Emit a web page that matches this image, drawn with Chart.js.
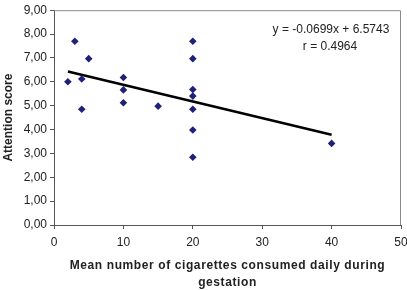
<!DOCTYPE html>
<html>
<head>
<meta charset="utf-8">
<script src="https://cdn.jsdelivr.net/npm/chart.js@4"></script>
<style>
  html, body { margin: 0; padding: 0; background: #fff; }
  #wrap { width: 407px; height: 290px; }
</style>
</head>
<body>
<div id="wrap"><canvas id="chart" width="407" height="290"></canvas></div>
<script>
// cigarettes per day vs attention score
const cigarettes = [2, 3, 4, 4, 5, 10, 10, 10, 15, 20, 20, 20, 20, 20, 20, 20, 40];
const attention = [6.0, 7.7, 6.12, 4.85, 6.97, 6.18, 5.66, 5.12, 4.98, 7.7, 6.97, 5.68, 5.4, 4.85, 3.98, 2.84, 3.42];

// linear trend line endpoints
const trendX = [2, 40];
const trendY = [6.43, 3.78];

const equationLines = ['y = -0.0699x + 6.5743', 'r = 0.4964'];
const xTitleLines = ['Mean number of cigarettes consumed daily during', 'gestation'];
const yTitle = 'Attention score';

const points = cigarettes.map((x, i) => ({ x: x, y: attention[i] }));
const trend = trendX.map((x, i) => ({ x: x, y: trendY[i] }));

const FONT = 'Liberation Sans, Arial, sans-serif';

const frameAndText = {
    id: 'frameAndText',
    afterDraw(chart) {
        const ctx = chart.ctx;
        const a = chart.chartArea;
        ctx.save();
        ctx.strokeStyle = '#8a8a8a';
        ctx.lineWidth = 1;
        ctx.beginPath();
        ctx.moveTo(a.left, a.top + 0.5);
        ctx.lineTo(a.right - 0.5, a.top + 0.5);
        ctx.lineTo(a.right - 0.5, a.bottom);
        ctx.stroke();

        ctx.fillStyle = '#222';
        ctx.font = '12px ' + FONT;
        ctx.textAlign = 'center';
        ctx.textBaseline = 'middle';
        ctx.fillText(equationLines[0], 331, 30);
        ctx.fillText(equationLines[1], 330, 47);

        // x axis title, spaced out like the original
        ctx.font = 'bold 12px ' + FONT;
        ctx.letterSpacing = '0.6px';
        const cx = (a.left + a.right) / 2;
        ctx.fillText(xTitleLines[0], cx, 266);
        ctx.fillText(xTitleLines[1], cx, 283);
        ctx.restore();
    }
};

new Chart(document.getElementById('chart'), {
    type: 'scatter',
    data: {
        datasets: [
            {
                label: 'Trend',
                type: 'line',
                data: trend,
                borderColor: '#000',
                borderWidth: 2.5,
                pointRadius: 0,
                fill: false,
                order: 2
            },
            {
                label: 'Data',
                data: points,
                pointStyle: 'rectRot',
                pointRadius: 3.8,
                backgroundColor: '#1f2078',
                borderColor: '#1f2078',
                borderWidth: 0,
                order: 1
            }
        ]
    },
    options: {
        responsive: false,
        animation: false,
        layout: { padding: { top: 3, right: 0, left: 1, bottom: 0 } },
        plugins: {
            legend: { display: false },
            tooltip: { enabled: false }
        },
        scales: {
            x: {
                type: 'linear',
                min: 0,
                max: 50,
                ticks: {
                    stepSize: 10,
                    color: '#222',
                    font: { family: FONT, size: 12 },
                    padding: 6
                },
                grid: { drawOnChartArea: false, drawTicks: true, tickLength: 4, color: '#555' },
                border: { display: true, color: '#555' },
                afterFit(scale) {
                    scale.height = 65;
                    scale.paddingRight = 6;
                }
            },
            y: {
                min: 0,
                max: 9,
                ticks: {
                    stepSize: 1,
                    color: '#222',
                    font: { family: FONT, size: 12 },
                    padding: 3,
                    callback: (v) => v.toFixed(2).replace('.', ',')
                },
                grid: { drawOnChartArea: false, drawTicks: true, tickLength: 4, color: '#555' },
                border: { display: true, color: '#555' },
                title: {
                    display: true,
                    text: yTitle,
                    color: '#222',
                    font: { family: FONT, size: 12, weight: 'bold' },
                    padding: { top: 0, bottom: 0 }
                },
                afterFit(scale) { scale.width = 53; }
            }
        }
    },
    plugins: [frameAndText]
});
</script>
</body>
</html>
